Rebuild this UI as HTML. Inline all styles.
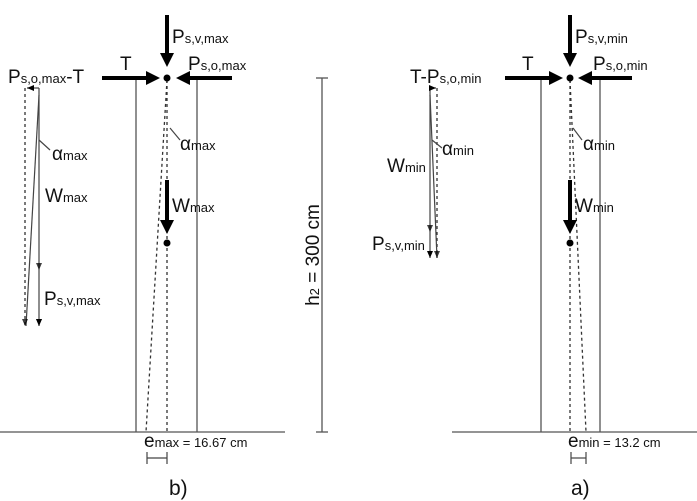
<!DOCTYPE html>
<html><head><meta charset="utf-8"><style>
body{margin:0;background:#fff}
svg{display:block;font-family:"Liberation Sans",sans-serif}
.b{font-size:19px}.s{font-size:13px}
</style></head><body>
<svg width="697" height="501" viewBox="0 0 697 501">
<defs>
<marker id="ah" markerWidth="8" markerHeight="8" refX="7" refY="4" orient="auto" markerUnits="userSpaceOnUse"><path d="M0,1 L7,4 L0,7 Z" fill="#000"/></marker>
</defs>
<g stroke="#555" stroke-width="1.3" fill="none">
<line x1="136" y1="78" x2="136" y2="432"/><line x1="197" y1="78" x2="197" y2="432"/>
<line x1="0" y1="432" x2="285" y2="432"/>
<line x1="541" y1="78" x2="541" y2="432"/><line x1="600" y1="78" x2="600" y2="432"/>
<line x1="452" y1="432" x2="697" y2="432"/>
<line x1="322" y1="78" x2="322" y2="432"/>
<line x1="316" y1="78" x2="328" y2="78"/><line x1="316" y1="432" x2="328" y2="432"/>
</g>
<g stroke="#333" stroke-width="1.3" stroke-dasharray="3,3" fill="none">
<line x1="167" y1="80" x2="167" y2="432"/><line x1="167" y1="80" x2="146" y2="432"/>
<line x1="570" y1="80" x2="570" y2="432"/><line x1="570" y1="80" x2="586" y2="432"/>
<line x1="25" y1="88" x2="25" y2="326"/><line x1="437" y1="88" x2="437" y2="258"/>
</g>
<g stroke="#000" stroke-width="4" fill="#000">
<line x1="102" y1="78" x2="148" y2="78"/><path d="M146,71 L160,78 L146,85Z" stroke="none"/>
<line x1="232" y1="78" x2="188" y2="78"/><path d="M190,71 L176,78 L190,85Z" stroke="none"/>
<line x1="167" y1="15" x2="167" y2="55"/><path d="M160,53 L167,67 L174,53Z" stroke="none"/>
<line x1="167" y1="180" x2="167" y2="222"/><path d="M160,220 L167,234 L174,220Z" stroke="none"/>
<line x1="505" y1="78" x2="551" y2="78"/><path d="M549,71 L563,78 L549,85Z" stroke="none"/>
<line x1="632" y1="78" x2="590" y2="78"/><path d="M592,71 L578,78 L592,85Z" stroke="none"/>
<line x1="570" y1="15" x2="570" y2="55"/><path d="M563,53 L570,67 L577,53Z" stroke="none"/>
<line x1="570" y1="180" x2="570" y2="222"/><path d="M563,220 L570,234 L577,220Z" stroke="none"/>
</g>
<g fill="#000"><circle cx="167" cy="78" r="3.5"/><circle cx="167" cy="243" r="3.5"/><circle cx="570" cy="78" r="3.5"/><circle cx="570" cy="243" r="3.5"/></g>
<g stroke="#444" stroke-width="1.2" fill="none">
<line x1="39" y1="88" x2="39" y2="326" marker-end="url(#ah)"/>
<line x1="39" y1="95" x2="26" y2="326"/>
<line x1="39" y1="88" x2="27" y2="88" marker-end="url(#ah)"/>
<line x1="430" y1="88" x2="430" y2="258" marker-end="url(#ah)"/>
<line x1="430" y1="95" x2="437" y2="258"/>
<line x1="430" y1="88" x2="436" y2="88" marker-end="url(#ah)"/>
<line x1="147" y1="452" x2="147" y2="464"/><line x1="167" y1="452" x2="167" y2="464"/><line x1="147" y1="458" x2="167" y2="458"/>
<line x1="571" y1="452" x2="571" y2="464"/><line x1="586" y1="452" x2="586" y2="464"/><line x1="571" y1="458" x2="586" y2="458"/>
<line x1="170" y1="128" x2="180" y2="140"/><line x1="573" y1="128" x2="582" y2="140"/>
<line x1="39" y1="140" x2="50" y2="150"/><line x1="432" y1="140" x2="442" y2="148"/>
</g>
<g fill="#000" fill-opacity="0.75">
<path d="M39,270 l-3,-7 h6z M39,326 l-3,-7 h6z M25,326 l-3,-7 h6z M430,232 l-3,-7 h6z M437,258 l-3,-7 h6z"/>
</g>
<g fill="#111">
<text x="8" y="83" class="b">P<tspan class="s">s,o,max</tspan>-T</text>
<text x="52" y="160" class="b">α<tspan class="s">max</tspan></text>
<text x="45" y="202" class="b">W<tspan class="s">max</tspan></text>
<text x="44" y="305" class="b">P<tspan class="s">s,v,max</tspan></text>
<text x="172" y="43" class="b">P<tspan class="s">s,v,max</tspan></text>
<text x="120" y="70" class="b">T</text>
<text x="188" y="70" class="b">P<tspan class="s">s,o,max</tspan></text>
<text x="180" y="150" class="b">α<tspan class="s">max</tspan></text>
<text x="172" y="212" class="b">W<tspan class="s">max</tspan></text>
<text x="144" y="447" class="b">e<tspan class="s">max = 16.67 cm</tspan></text>
<text x="169" y="495" style="font-size:21px">b)</text>
<text x="319" y="255" class="b" text-anchor="middle" transform="rotate(-90 319 255)">h<tspan class="s">2</tspan> = 300 cm</text>
<text x="410" y="83" class="b">T-P<tspan class="s">s,o,min</tspan></text>
<text x="442" y="155" class="b">α<tspan class="s">min</tspan></text>
<text x="387" y="172" class="b">W<tspan class="s">min</tspan></text>
<text x="372" y="250" class="b">P<tspan class="s">s,v,min</tspan></text>
<text x="575" y="43" class="b">P<tspan class="s">s,v,min</tspan></text>
<text x="522" y="70" class="b">T</text>
<text x="593" y="70" class="b">P<tspan class="s">s,o,min</tspan></text>
<text x="583" y="150" class="b">α<tspan class="s">min</tspan></text>
<text x="575" y="212" class="b">W<tspan class="s">min</tspan></text>
<text x="568" y="447" class="b">e<tspan class="s">min = 13.2 cm</tspan></text>
<text x="571" y="495" style="font-size:21px">a)</text>
</g>
</svg>
</body></html>
